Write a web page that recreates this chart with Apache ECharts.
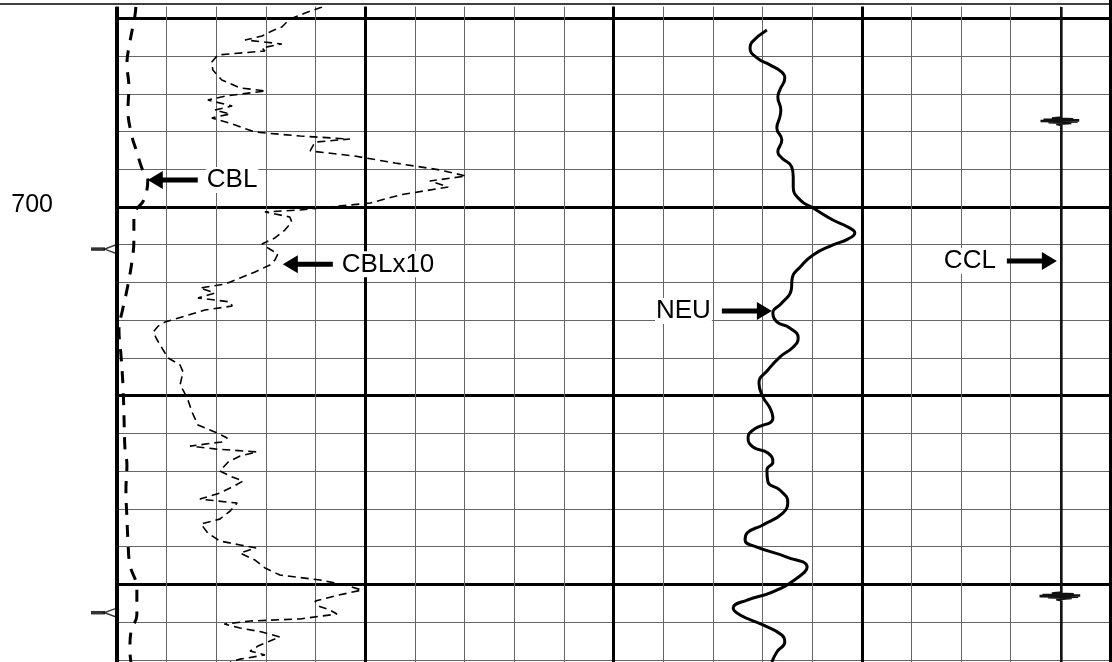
<!DOCTYPE html>
<html>
<head>
<meta charset="utf-8">
<script src="https://cdn.jsdelivr.net/npm/echarts@6/dist/echarts.min.js"></script>
<style>
  html, body { margin: 0; padding: 0; background: #fff; }
  #chart { width: 1112px; height: 662px; }
</style>
</head>
<body>
<div id="chart"></div>
<script>
// Cement bond log, depth in feet (increasing downwards)

// CBL amplitude, mV (left track, 0-100 mV)
const cblDepth = [689.40, 689.88, 691.26, 692.42, 693.64, 694.86, 696.24, 697.09, 697.93, 698.57,
  699.63, 700.42, 701.75, 702.91, 704.40, 705.35, 706.52, 707.84, 709.43, 711.02, 712.77, 713.67,
  715.00, 716.48, 717.65, 718.97, 720.19, 721.62, 722.52, 723.48, 724.11];
const cblMv = [3.8, 3.6, 2.6, 2.0, 2.4, 2.2, 3.0, 4.0, 5.0, 6.2,
  5.4, 3.4, 3.4, 3.0, 2.0, 1.2, 0.4, 0.8, 1.2, 1.4, 1.6, 2.0,
  1.8, 2.0, 2.2, 2.6, 4.0, 4.0, 2.8, 2.6, 2.8];

// CBL amplified x10 (left track, same 0-100 scale)
const cbl10Depth = [689.40, 689.72, 690.04, 690.46, 690.67, 690.94, 691.15, 691.36, 691.57, 691.73,
  691.94, 692.32, 692.74, 693.27, 693.69, 693.85, 694.12, 694.33, 694.65, 694.86, 695.07, 695.28,
  695.60, 696.03, 696.24, 696.40, 696.56, 697.03, 697.30, 697.67, 698.04, 698.36, 698.62, 698.94,
  699.36, 699.79, 700.00, 700.16, 700.26, 700.53, 700.79, 701.22, 701.64, 701.96, 702.17, 702.49,
  702.81, 703.07, 703.44, 703.76, 704.08, 704.29, 704.56, 704.82, 705.03, 705.25, 705.46, 705.78,
  706.09, 706.31, 706.62, 707.05, 707.58, 708.00, 708.37, 708.74, 709.43, 709.80, 710.23, 710.86,
  711.55, 711.92, 712.24, 712.45, 712.67, 712.82, 712.98, 713.20, 713.51, 713.99, 714.26, 714.52,
  714.84, 715.16, 715.48, 715.69, 716.11, 716.54, 716.80, 717.28, 717.70, 717.91, 718.07, 718.34,
  718.71, 719.13, 719.50, 719.77, 720.03, 720.30, 720.61, 720.88, 721.14, 721.36, 721.57, 721.83,
  721.94, 722.10, 722.31, 722.52, 722.79, 723.00, 723.27, 723.53, 723.74, 723.96, 724.11];
const cbl10Mv = [41.3, 37.9, 34.8, 33.2, 31.2, 29.2, 25.8, 33.2, 29.2, 29.8,
  20.3, 19.1, 19.3, 21.1, 24.8, 30.0, 21.8, 18.3, 23.2, 19.7, 22.8, 19.1,
  23.2, 27.8, 36.9, 46.9, 39.9, 38.9, 47.9, 56.0, 65.1, 70.3, 63.0, 66.7,
  57.0, 51.0, 42.9, 36.9, 29.8, 34.8, 35.2, 33.8, 31.8, 29.2, 30.4, 32.4,
  31.8, 30.8, 27.8, 24.8, 21.8, 16.7, 19.7, 16.3, 22.8, 23.2, 17.7, 13.7,
  9.7, 8.3, 7.3, 8.1, 9.3, 10.3, 12.7, 13.3, 12.7, 13.5, 14.3, 15.1,
  16.3, 19.7, 22.2, 21.1, 14.7, 19.7, 28.2, 24.8, 22.4, 20.7, 22.8, 25.4,
  23.2, 20.7, 16.7, 24.2, 22.8, 20.7, 16.9, 18.3, 20.7, 24.8, 28.0, 24.8,
  27.8, 29.8, 32.8, 40.9, 45.9, 49.3, 43.9, 39.9, 40.5, 42.9, 44.3, 36.9,
  26.8, 21.6, 24.8, 29.2, 32.8, 30.8, 28.4, 26.8, 29.8, 24.8, 22.8];

// Neutron (right track, 0-100 scale)
const neuDepth = [690.62, 691.26, 691.57, 692.10, 692.47, 692.85, 693.16, 693.80, 694.17, 694.86,
  695.23, 695.81, 696.45, 697.09, 697.40, 697.88, 698.41, 698.94, 699.63, 700.05, 700.69, 701.06,
  701.38, 701.70, 702.01, 702.54, 703.18, 703.76, 704.40, 705.09, 705.62, 706.09, 706.41, 706.94,
  707.42, 707.95, 708.64, 709.33, 710.07, 710.65, 711.18, 711.82, 712.24, 712.72, 713.04, 713.51,
  713.94, 714.57, 715.00, 715.63, 716.22, 716.85, 717.28, 717.65, 718.02, 718.55, 719.08, 719.66,
  720.40, 720.83, 721.25, 721.62, 722.15, 722.68, 723.05, 723.58, 724.11];
const neuVal = [30.9, 27.9, 27.5, 28.9, 31.5, 33.9, 34.5, 33.5, 33.1, 33.7,
  33.5, 32.9, 33.9, 33.1, 33.9, 35.9, 36.2, 36.2, 37.6, 40.2, 44.2, 47.2,
  48.6, 47.2, 44.2, 40.2, 37.6, 36.0, 35.8, 33.9, 32.1, 32.9, 35.5, 37.2,
  36.2, 33.5, 31.1, 29.3, 30.1, 31.5, 32.1, 28.1, 27.1, 28.1, 31.1, 32.1,
  30.9, 31.1, 33.5, 35.1, 34.1, 30.1, 26.9, 26.5, 28.9, 34.9, 39.0, 37.0,
  32.1, 26.9, 24.1, 25.5, 30.1, 33.9, 34.5, 32.9, 31.9];

// Casing collar locator (right track, same scale), collars near 695.4 and 720.6 ft
const cclDepth = [689.40, 695.26, 695.31, 695.35, 695.38, 695.41, 695.44, 695.47, 695.50, 695.54, 695.60, 695.66,
  720.43, 720.49, 720.53, 720.56, 720.59, 720.62, 720.65, 720.68, 720.72, 720.78, 720.84, 724.11];
const cclVal = [90.2, 90.2, 88.3, 92.6, 86.6, 93.8, 86.0, 93.5, 87.6, 92.2, 89.2, 90.2,
  90.2, 88.3, 92.7, 86.4, 94.0, 85.8, 93.6, 87.5, 92.3, 89.2, 90.2, 90.2];

// Depth flags on the depth column
const flagDepth = [702.23, 721.50];

// Depth annotations on the depth column
const depthLabels = [700];

// Curve name tags with pointer arrows
const tags = [
  { text: 'CBL', series: 0, value: 6.2, depth: 698.57, dir: 'left' },
  { text: 'CBLx10', series: 1, value: 33.4, depth: 703.04, dir: 'left' },
  { text: 'NEU', series: 2, value: 31.9, depth: 705.51, dir: 'right' },
  { text: 'CCL', series: 3, value: 89.3, depth: 702.86, dir: 'right' }
];

const FONT = '"Liberation Sans", Arial, Helvetica, sans-serif';
const zip = (d, v) => d.map((dd, i) => [v[i], dd]);

const DEPTH_MIN = 680, DEPTH_MAX = 730;
const PX_PER_FT = 18.87;
const GRID_TOP = 207 - (700 - DEPTH_MIN) * PX_PER_FT;
const GRID_H = (DEPTH_MAX - DEPTH_MIN) * PX_PER_FT;
const TRACK_L = 117, TRACK_W = 496.5;

const thin = { color: '#666', width: 1, type: 'solid' };
const bold = { color: '#000', width: 3, type: 'solid' };

const gridBase = { top: GRID_TOP, height: GRID_H, containLabel: false, outerBoundsMode: 'none', show: false };

const hiddenDepth = (gi) => ({
  type: 'value', gridIndex: gi, inverse: true, min: DEPTH_MIN, max: DEPTH_MAX, show: false
});

const chart = echarts.init(document.getElementById('chart'), null, { renderer: 'canvas' });

chart.setOption({
  animation: false,
  backgroundColor: '#fff',
  grid: [
    Object.assign({ left: TRACK_L, width: TRACK_W * 2 }, gridBase),
    Object.assign({ left: TRACK_L, width: TRACK_W }, gridBase),
    Object.assign({ left: TRACK_L + TRACK_W, width: TRACK_W }, gridBase)
  ],
  xAxis: [
    { type: 'value', gridIndex: 0, min: 0, max: 20, interval: 1,
      axisLine: { show: false }, axisTick: { show: false }, axisLabel: { show: false },
      splitLine: { show: true, lineStyle: thin } },
    { type: 'value', gridIndex: 0, min: 0, max: 20, interval: 5,
      axisLine: { show: false }, axisTick: { show: false }, axisLabel: { show: false },
      splitLine: { show: true, lineStyle: bold } },
    { type: 'value', gridIndex: 1, min: 0, max: 100, show: false },
    { type: 'value', gridIndex: 2, min: 0, max: 100, show: false }
  ],
  yAxis: [
    { type: 'value', gridIndex: 0, inverse: true, min: DEPTH_MIN, max: DEPTH_MAX, interval: 2,
      axisLine: { show: false }, axisTick: { show: false }, axisLabel: { show: false },
      splitLine: { show: true, lineStyle: thin } },
    { type: 'value', gridIndex: 0, inverse: true, min: DEPTH_MIN, max: DEPTH_MAX, interval: 10,
      axisLine: { show: false }, axisTick: { show: false }, axisLabel: { show: false },
      splitLine: { show: true, lineStyle: bold } },
    hiddenDepth(1),
    hiddenDepth(2)
  ],
  series: [
    { name: 'CBL', type: 'line', xAxisIndex: 2, yAxisIndex: 2, data: zip(cblDepth, cblMv),
      smooth: 0.4, symbol: 'none', lineStyle: { color: '#000', width: 3, type: [12, 10] } },
    { name: 'CBLx10', type: 'line', xAxisIndex: 2, yAxisIndex: 2, data: zip(cbl10Depth, cbl10Mv),
      smooth: false, symbol: 'none', lineStyle: { color: '#000', width: 1.6, type: [8, 5] } },
    { name: 'NEU', type: 'line', xAxisIndex: 3, yAxisIndex: 3, data: zip(neuDepth, neuVal),
      smooth: 0.5, symbol: 'none', lineStyle: { color: '#000', width: 3 } },
    { name: 'CCL', type: 'line', xAxisIndex: 3, yAxisIndex: 3, data: zip(cclDepth, cclVal),
      smooth: false, symbol: 'none', lineStyle: { color: '#111', width: 2.6 } },
    // depth flag stems
    { name: 'flagStem', type: 'scatter', xAxisIndex: 2, yAxisIndex: 2, clip: false, silent: true,
      data: flagDepth.map(d => [0, d]),
      symbol: 'rect', symbolSize: [14, 3.5], symbolOffset: [-19, 0],
      itemStyle: { color: '#000' } },
    // depth flag heads
    { name: 'flagHead', type: 'scatter', xAxisIndex: 2, yAxisIndex: 2, clip: false, silent: true,
      data: flagDepth.map(d => [0, d]),
      symbol: 'path://M0,4.5 L12,0 L12,9 Z', symbolSize: [12, 9], symbolOffset: [-6.5, 0],
      itemStyle: { color: '#fff', borderColor: '#000', borderWidth: 1.5 } }
  ]
});

// Tag arrows and names, anchored to the curves they point at
function arrowPoints(px, py, dir) {
  const s = dir === 'left' ? 1 : -1;
  return [
    [px, py], [px + s * 15, py - 9], [px + s * 15, py - 2.5], [px + s * 50, py - 2.5],
    [px + s * 50, py + 2.5], [px + s * 15, py + 2.5], [px + s * 15, py + 9]
  ];
}

const elements = [
  { type: 'rect', z: 100, shape: { x: 0, y: 0, width: 1108, height: 6.5 }, style: { fill: '#fff' } },
  { type: 'line', z: 101, shape: { x1: 0, y1: 4, x2: 1111, y2: 4 }, style: { stroke: '#000', lineWidth: 1.5 } }
];

depthLabels.forEach(d => {
  const py = chart.convertToPixel({ yAxisIndex: 1 }, d);
  elements.push({
    type: 'text', z: 50, x: 53, y: py - 2,
    style: { text: String(d), fontSize: 25, fontFamily: FONT, fill: '#000', align: 'right', verticalAlign: 'middle' }
  });
});

tags.forEach(t => {
  const [px, py] = chart.convertToPixel({ seriesIndex: t.series }, [t.value, t.depth]);
  elements.push({ type: 'polygon', z: 50, shape: { points: arrowPoints(px, py, t.dir) }, style: { fill: '#000' } });
  const tx = t.dir === 'left' ? px + 58 : px - 60;
  elements.push({
    type: 'text', z: 50, x: tx, y: py,
    style: {
      text: t.text, fontSize: 26, fontFamily: FONT, fill: '#000',
      align: t.dir === 'left' ? 'left' : 'right', verticalAlign: 'middle',
      backgroundColor: '#fff', padding: [0, 1]
    }
  });
});

// Heavier left edge of the depth track
const yTop = chart.convertToPixel({ yAxisIndex: 1 }, DEPTH_MIN);
const yBot = chart.convertToPixel({ yAxisIndex: 1 }, DEPTH_MAX);
elements.push({ type: 'line', z: 40, shape: { x1: TRACK_L, y1: Math.max(yTop, 6.5), x2: TRACK_L, y2: yBot },
  style: { stroke: '#000', lineWidth: 4 } });

chart.setOption({ graphic: { elements: elements } });
</script>
</body>
</html>
